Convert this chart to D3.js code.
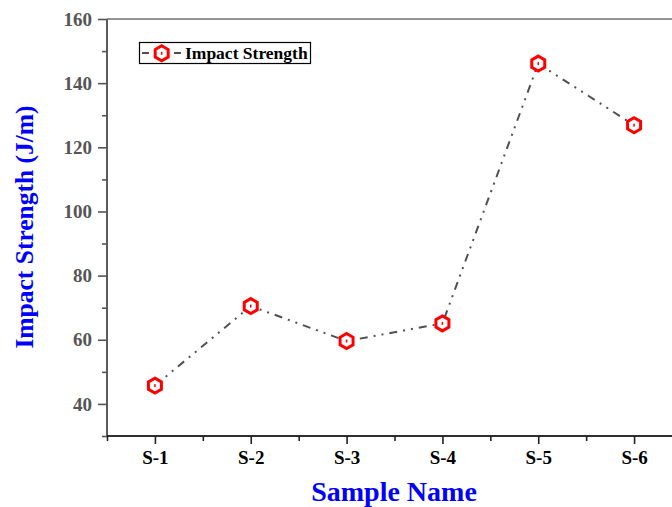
<!DOCTYPE html>
<html><head><meta charset="utf-8">
<script src="https://cdn.jsdelivr.net/npm/d3@7"></script>
<style>body{margin:0;background:#fff}svg{display:block}</style>
</head><body>
<script>
const categories = ["S-1","S-2","S-3","S-4","S-5","S-6"];
const impactStrength = [45.7, 70.5, 59.6, 65.1, 146.1, 126.9];
const yTicks = [40, 60, 80, 100, 120, 140, 160];
const seriesName = "Impact Strength";
const xTitle = "Sample Name";
const yTitle = "Impact Strength (J/m)";

(function () {
const W = 672, H = 507;
const pL = 107, pT = 19, pB = 436, pR = 682;
const svg = d3.select("body").append("svg").attr("width", W).attr("height", H);
const font = "'Liberation Serif','Times New Roman',serif";

const x = d3.scaleLinear().domain([0.5, 6.5]).range([pL, pR]);
const y = d3.scaleLinear().domain([30, 160]).range([pB, pT]);

// top frame line
svg.append("line").attr("x1", pL).attr("x2", pR).attr("y1", pT).attr("y2", pT)
  .attr("stroke", "#707070").attr("stroke-width", 1.5);

// y axis
const yMinor = d3.range(30, 160, 20);
const gy = svg.append("g").attr("transform", `translate(${pL},0)`);
gy.append("g").call(d3.axisLeft(y).tickValues(yMinor).tickSize(5).tickFormat(""));
gy.append("g").call(d3.axisLeft(y).tickValues(yTicks).tickSize(9).tickPadding(6).tickFormat(d3.format("d")));
gy.selectAll("path,line").attr("stroke", "#555").attr("stroke-width", 1.6);
gy.selectAll(".domain").attr("d", `M0,${pT}V${pB}`);
gy.selectAll("text").attr("fill", "#555").attr("font-family", font).attr("font-weight", "bold").attr("font-size", 19);

// x axis
const gx = svg.append("g").attr("transform", `translate(0,${pB})`);
gx.append("g").call(d3.axisBottom(x).tickValues(d3.range(0.5, 7, 1)).tickSize(5).tickFormat(""));
gx.append("g").call(d3.axisBottom(x).tickValues(d3.range(1, 7)).tickSize(8).tickPadding(7)
  .tickFormat(d => categories[d - 1]));
gx.selectAll("path,line").attr("stroke", "#222").attr("stroke-width", 1.6);
gx.selectAll(".domain").attr("d", `M${pL},0H${pR}`);
gx.selectAll("text").attr("fill", "#000").attr("font-family", font).attr("font-weight", "bold").attr("font-size", 19);

// titles
svg.append("text").attr("x", 394).attr("y", 500.5).attr("text-anchor", "middle")
  .attr("font-family", font).attr("font-weight", "bold").attr("font-size", 28).attr("fill", "#0000ff").text(xTitle);
svg.append("text").attr("transform", "translate(33,227) rotate(-90)").attr("text-anchor", "middle")
  .attr("font-family", font).attr("font-weight", "bold").attr("font-size", 25.5).attr("fill", "#0000ff").text(yTitle);

// line
const pts = impactStrength.map((v, i) => [x(i + 1), y(v)]);
svg.append("path").attr("d", d3.line()(pts)).attr("fill", "none")
  .attr("stroke", "#505050").attr("stroke-width", 2).attr("stroke-dasharray", "8,6,2,6,2,6");

// markers
const hex = r => d3.range(6).map(k => {
  const a = Math.PI / 3 * k - Math.PI / 2;
  return [r * Math.cos(a), r * Math.sin(a)];
});
function marker(g) {
  g.append("path").attr("d", d3.line()(hex(7.5)) + "Z").attr("fill", "#fff")
    .attr("stroke", "#ff0000").attr("stroke-width", 3);
  g.append("rect").attr("x", -0.75).attr("y", -1.5).attr("width", 1.5).attr("height", 3).attr("fill", "#ff0000");
}
svg.selectAll("g.mk").data(pts).join("g").attr("class", "mk")
  .attr("transform", d => `translate(${d[0]},${d[1]})`).each(function () { marker(d3.select(this)); });

// legend
const lg = svg.append("g");
lg.append("rect").attr("x", 139.5).attr("y", 42.5).attr("width", 171).attr("height", 21)
  .attr("fill", "#fff").attr("stroke", "#000").attr("stroke-width", 1.2);
lg.append("line").attr("x1", 142).attr("x2", 149).attr("y1", 53).attr("y2", 53).attr("stroke", "#505050").attr("stroke-width", 2);
lg.append("line").attr("x1", 174).attr("x2", 181).attr("y1", 53).attr("y2", 53).attr("stroke", "#505050").attr("stroke-width", 2);
const lm = lg.append("g").attr("transform", "translate(161.7,53.3)");
marker(lm);
lg.append("text").attr("x", 185).attr("y", 59).attr("font-family", font).attr("font-weight", "bold")
  .attr("font-size", 17.5).attr("fill", "#000").text(seriesName);
})();
</script>
</body></html>
